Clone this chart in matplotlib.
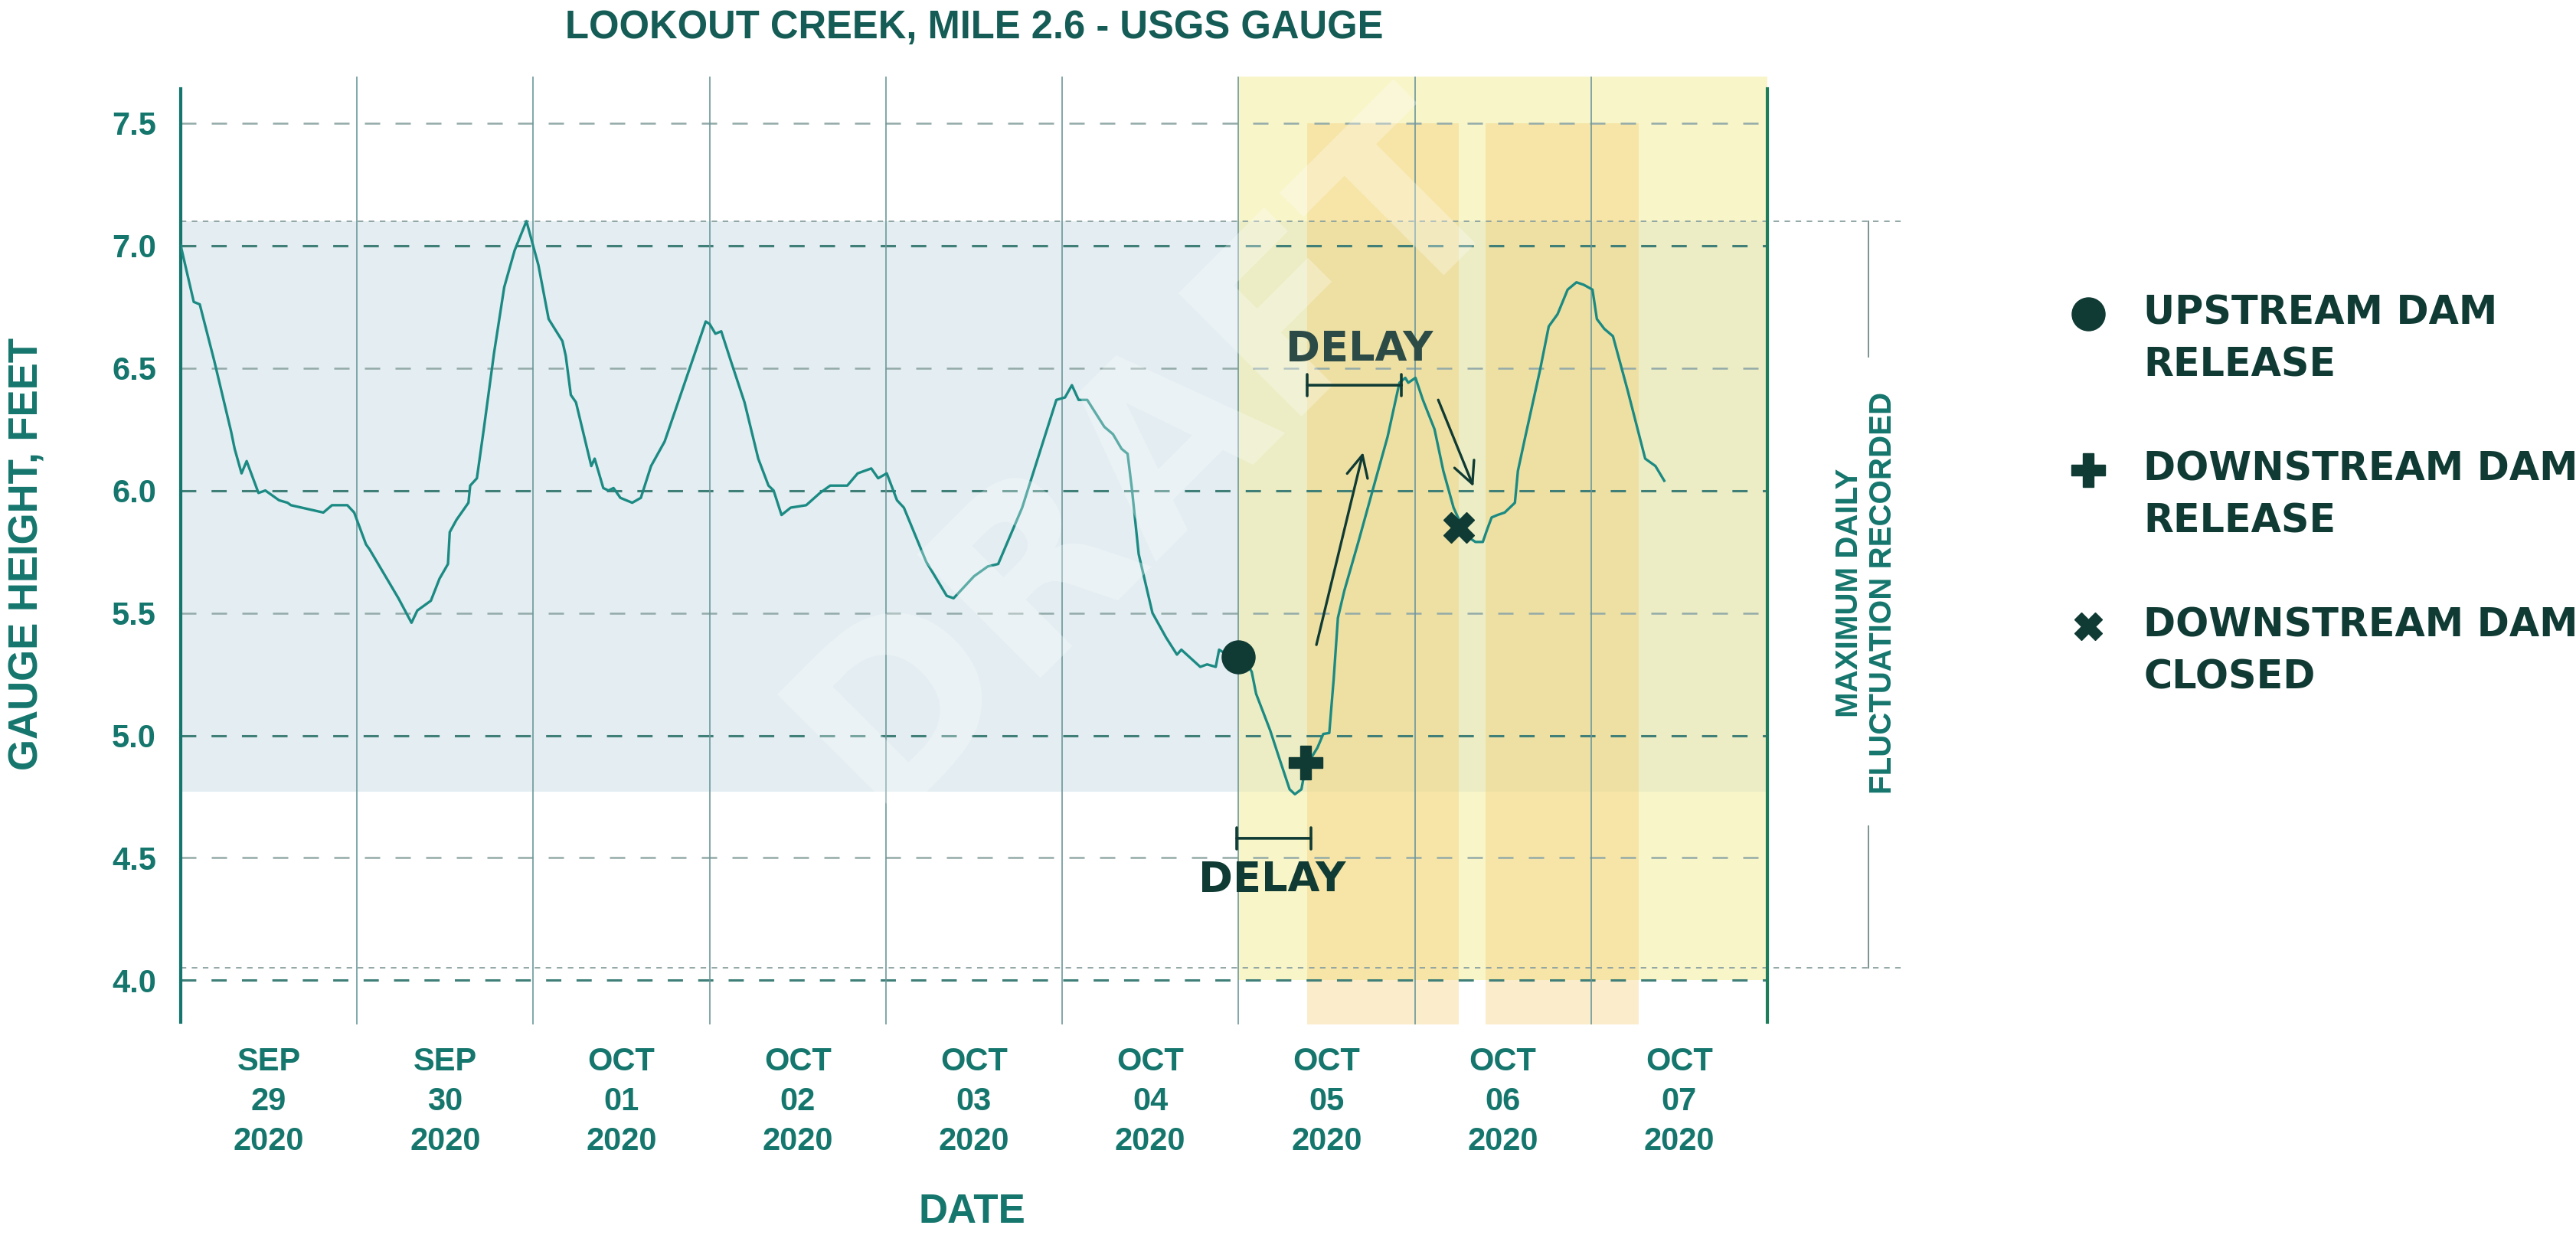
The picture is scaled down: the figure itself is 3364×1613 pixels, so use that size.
import matplotlib.pyplot as plt
from matplotlib.lines import Line2D

# gauge height at Lookout Creek, days counted from 2020-09-29 00:00
days = [0.00, 0.074, 0.108, 0.19, 0.286, 0.306, 0.345, 0.374, 0.441, 0.48,
        0.558, 0.606, 0.625, 0.809, 0.858, 0.945, 0.984, 1.051, 1.071, 1.235,
        1.309, 1.342, 1.419, 1.468, 1.516, 1.526, 1.564, 1.632, 1.642, 1.68,
        1.719, 1.777, 1.835, 1.894, 1.961, 2.029, 2.087, 2.165, 2.184, 2.213,
        2.242, 2.329, 2.348, 2.397, 2.426, 2.455, 2.494, 2.561, 2.61, 2.668,
        2.745, 2.978, 3.00, 3.033, 3.066, 3.12, 3.198, 3.276, 3.334, 3.363,
        3.408, 3.46, 3.548, 3.626, 3.684, 3.781, 3.84, 3.917, 3.956, 4.005,
        4.063, 4.102, 4.228, 4.345, 4.384, 4.5, 4.578, 4.637, 4.773, 4.87,
        4.967, 5.016, 5.055, 5.093, 5.142, 5.239, 5.288, 5.337, 5.371, 5.395,
        5.434, 5.512, 5.589, 5.651, 5.676, 5.783, 5.822, 5.871, 5.89, 5.958,
        6.025, 6.075, 6.1, 6.18, 6.23, 6.29, 6.32, 6.357, 6.38, 6.448,
        6.481, 6.515, 6.54, 6.564, 6.6, 6.68, 6.78, 6.846, 6.913, 6.946,
        6.963, 7.004, 7.046, 7.112, 7.162, 7.22, 7.27, 7.303, 7.344, 7.386,
        7.41, 7.436, 7.469, 7.51, 7.568, 7.585, 7.627, 7.71, 7.76, 7.81,
        7.867, 7.917, 7.958, 8.008, 8.033, 8.075, 8.124, 8.207, 8.307, 8.365,
        8.415]
height_ft = [7.00, 6.77, 6.76, 6.53, 6.24, 6.17, 6.07, 6.12, 5.99, 6.00,
             5.96, 5.95, 5.94, 5.91, 5.94, 5.94, 5.91, 5.78, 5.76, 5.56,
             5.46, 5.51, 5.55, 5.64, 5.70, 5.83, 5.88, 5.95, 6.02, 6.05,
             6.25, 6.56, 6.83, 6.98, 7.10, 6.92, 6.70, 6.61, 6.55, 6.39,
             6.36, 6.10, 6.13, 6.01, 6.00, 6.01, 5.97, 5.95, 5.97, 6.10,
             6.20, 6.69, 6.68, 6.64, 6.65, 6.53, 6.36, 6.13, 6.02, 6.00,
             5.90, 5.93, 5.94, 5.99, 6.02, 6.02, 6.07, 6.09, 6.05, 6.07,
             5.96, 5.93, 5.71, 5.57, 5.56, 5.65, 5.69, 5.70, 5.93, 6.15,
             6.37, 6.38, 6.43, 6.37, 6.37, 6.26, 6.23, 6.17, 6.15, 6.01,
             5.74, 5.50, 5.40, 5.33, 5.35, 5.28, 5.29, 5.28, 5.35, 5.32,
             5.32, 5.26, 5.17, 5.02, 4.91, 4.78, 4.76, 4.78, 4.87, 4.95,
             5.006, 5.01, 5.23, 5.48, 5.59, 5.79, 6.05, 6.22, 6.44, 6.46,
             6.44, 6.46, 6.37, 6.25, 6.08, 5.93, 5.85, 5.81, 5.79, 5.79,
             5.84, 5.89, 5.90, 5.91, 5.95, 6.08, 6.22, 6.49, 6.67, 6.72,
             6.82, 6.85, 6.84, 6.82, 6.70, 6.66, 6.63, 6.41, 6.13, 6.10,
             6.04]

day_labels = ["SEP\n29\n2020", "SEP\n30\n2020", "OCT\n01\n2020", "OCT\n02\n2020",
              "OCT\n03\n2020", "OCT\n04\n2020", "OCT\n05\n2020", "OCT\n06\n2020",
              "OCT\n07\n2020"]

event_names = ["UPSTREAM DAM\nRELEASE", "DOWNSTREAM DAM\nRELEASE", "DOWNSTREAM DAM\nCLOSED"]
event_days = [6.0, 6.38, 7.25]
event_ft = [5.32, 4.89, 5.85]
event_markers = ["o", "P", "X"]

upstream_window = [6.0, 9.0]
release_windows = [[6.39, 7.25], [7.40, 8.27]]
typical_range = [4.77, 7.10]
fluct_range = [4.05, 7.10]

TEAL = "#15766d"
DARK = "#0f3b34"
LINE = "#1b8a83"
LAB = ["Liberation Sans", "DejaVu Sans"]
WIDE = ["DejaVu Sans"]

fig = plt.figure(figsize=(33.64, 16.13), dpi=100)
ax = fig.add_axes([236 / 3364, 1 - 1338 / 1613, 2072 / 3364, 1238 / 1613])
ax.set_xlim(0, 9)
ax.set_ylim(3.82, 7.69)

# background bands
ax.axhspan(typical_range[0], typical_range[1], color="#e3edf2", lw=0, zorder=0)
ax.fill_between(upstream_window, 4.0, 7.69, color="#f4eea0", alpha=0.56, lw=0, zorder=0.5)
for a, b in release_windows:
    ax.fill_between([a, b], 3.82, 7.5, color="#f3c55f", alpha=0.32, lw=0, zorder=0.6)

# grid
for v in [4.0, 5.0, 6.0, 7.0]:
    ax.axhline(v, color="#3f7f78", lw=2.2, ls=(0, (6.5, 6.5)), zorder=1)
for v in [4.5, 5.5, 6.5, 7.5]:
    ax.axhline(v, color="#93aaa8", lw=1.8, ls=(0, (8, 8)), zorder=1)
for d in range(1, 9):
    ax.axvline(d, color="#6c989b", lw=1.2, zorder=1)
for v in fluct_range:
    ax.plot([0, 9.76], [v, v], color="#8aa0a0", lw=1.3, ls=(0, (4, 4)),
            clip_on=False, zorder=1)

for s in ["top", "bottom"]:
    ax.spines[s].set_visible(False)
ax.spines["left"].set_color(TEAL)
ax.spines["right"].set_color("#1e7d5a")
for s in ["left", "right"]:
    ax.spines[s].set_linewidth(3)
    ax.spines[s].set_bounds(3.83, 7.64)

ax.set_yticks([4.0, 4.5, 5.0, 5.5, 6.0, 6.5, 7.0, 7.5])
ax.set_yticklabels(["%.1f" % v for v in ax.get_yticks()])
ax.set_xticks([d + 0.5 for d in range(len(day_labels))])
ax.set_xticklabels(day_labels, linespacing=1.38)
ax.tick_params(axis="y", length=0, pad=23, labelsize=30, labelcolor=TEAL)
ax.tick_params(axis="x", length=0, pad=21, labelsize=30, labelcolor=TEAL)
for t in ax.get_xticklabels() + ax.get_yticklabels():
    t.set_fontweight("bold")
    t.set_family(LAB)

# data
ax.plot(days, height_ft, color=LINE, lw=2.4, zorder=3)
sizes = [31, 32, 29]
for d, v, m, s in zip(event_days, event_ft, event_markers, sizes):
    ax.plot(d, v, m, ms=s, color=DARK, mec=DARK, zorder=5)

# annotations
arrow = dict(arrowstyle="->,head_length=0.45,head_width=0.22", color=DARK, lw=2.4,
             mutation_scale=45, shrinkA=0, shrinkB=0)
ax.annotate("", xy=(6.707, 6.156), xytext=(6.442, 5.37), arrowprops=arrow, zorder=4)
ax.annotate("", xy=(7.333, 6.016), xytext=(7.133, 6.37), arrowprops=arrow, zorder=4)
bracket = dict(arrowstyle="|-|,widthA=0.5,widthB=0.5", color=DARK, lw=2.6,
               mutation_scale=20, shrinkA=0, shrinkB=0)
ax.annotate("", xy=(6.41, 4.58), xytext=(5.99, 4.58), arrowprops=bracket, zorder=4)
ax.annotate("", xy=(6.925, 6.43), xytext=(6.39, 6.43), arrowprops=bracket, zorder=4)
ax.text(6.19, 4.41, "DELAY", ha="center", va="center", fontsize=39,
        fontweight="bold", family=WIDE, color=DARK, zorder=4)
ax.text(6.687, 6.576, "DELAY", ha="center", va="center", fontsize=39,
        fontweight="bold", family=WIDE, color="#2c4b46", zorder=4)

# watermark
ax.text(0.61, 0.6, "DRAFT", transform=ax.transAxes, rotation=45, ha="center",
        va="center", fontsize=225, fontweight="bold", family=WIDE, color="white",
        alpha=0.3, zorder=3.6)

# fluctuation bracket
ax.plot([9.574, 9.574], [fluct_range[1], 6.547], color="#6f8a88", lw=1.3, clip_on=False)
ax.plot([9.574, 9.574], [4.631, fluct_range[0]], color="#6f8a88", lw=1.3, clip_on=False)
fig.text(2437 / 3364, 1 - 774 / 1613, "MAXIMUM DAILY\nFLUCTUATION RECORDED",
         rotation=90, ha="center", va="center", fontsize=29, fontweight="bold",
         family=LAB, color=TEAL, linespacing=1.2)

# titles
fig.text(1272 / 3364, 1 - 36 / 1613, "LOOKOUT CREEK, MILE 2.6 - USGS GAUGE",
         ha="center", va="center", fontsize=36.5, fontweight="bold", family=LAB,
         color="#145c55")
fig.text(1269 / 3364, 1 - 1583 / 1613, "DATE", ha="center", va="center",
         fontsize=38, fontweight="bold", family=LAB, color=TEAL)
fig.text(36 / 3364, 1 - 723 / 1613, "GAUGE HEIGHT, FEET", rotation=90,
         ha="center", va="center", fontsize=38, fontweight="bold", family=LAB,
         color=TEAL)

# legend
for i, (name, m, s) in enumerate(zip(event_names, event_markers, [31, 32, 26])):
    y0 = 1 - (410 + 204 * i) / 1613
    fig.add_artist(Line2D([2727 / 3364], [y0], marker=m, ms=s, color=DARK,
                          mec=DARK, transform=fig.transFigure))
    for j, line in enumerate(name.split("\n")):
        fig.text(2799 / 3364, y0 - j * 68 / 1613, line, ha="left", va="center",
                 fontsize=36.5, fontweight="bold", family=WIDE, color=DARK)

fig.savefig("out.png", dpi=100, facecolor="white")
